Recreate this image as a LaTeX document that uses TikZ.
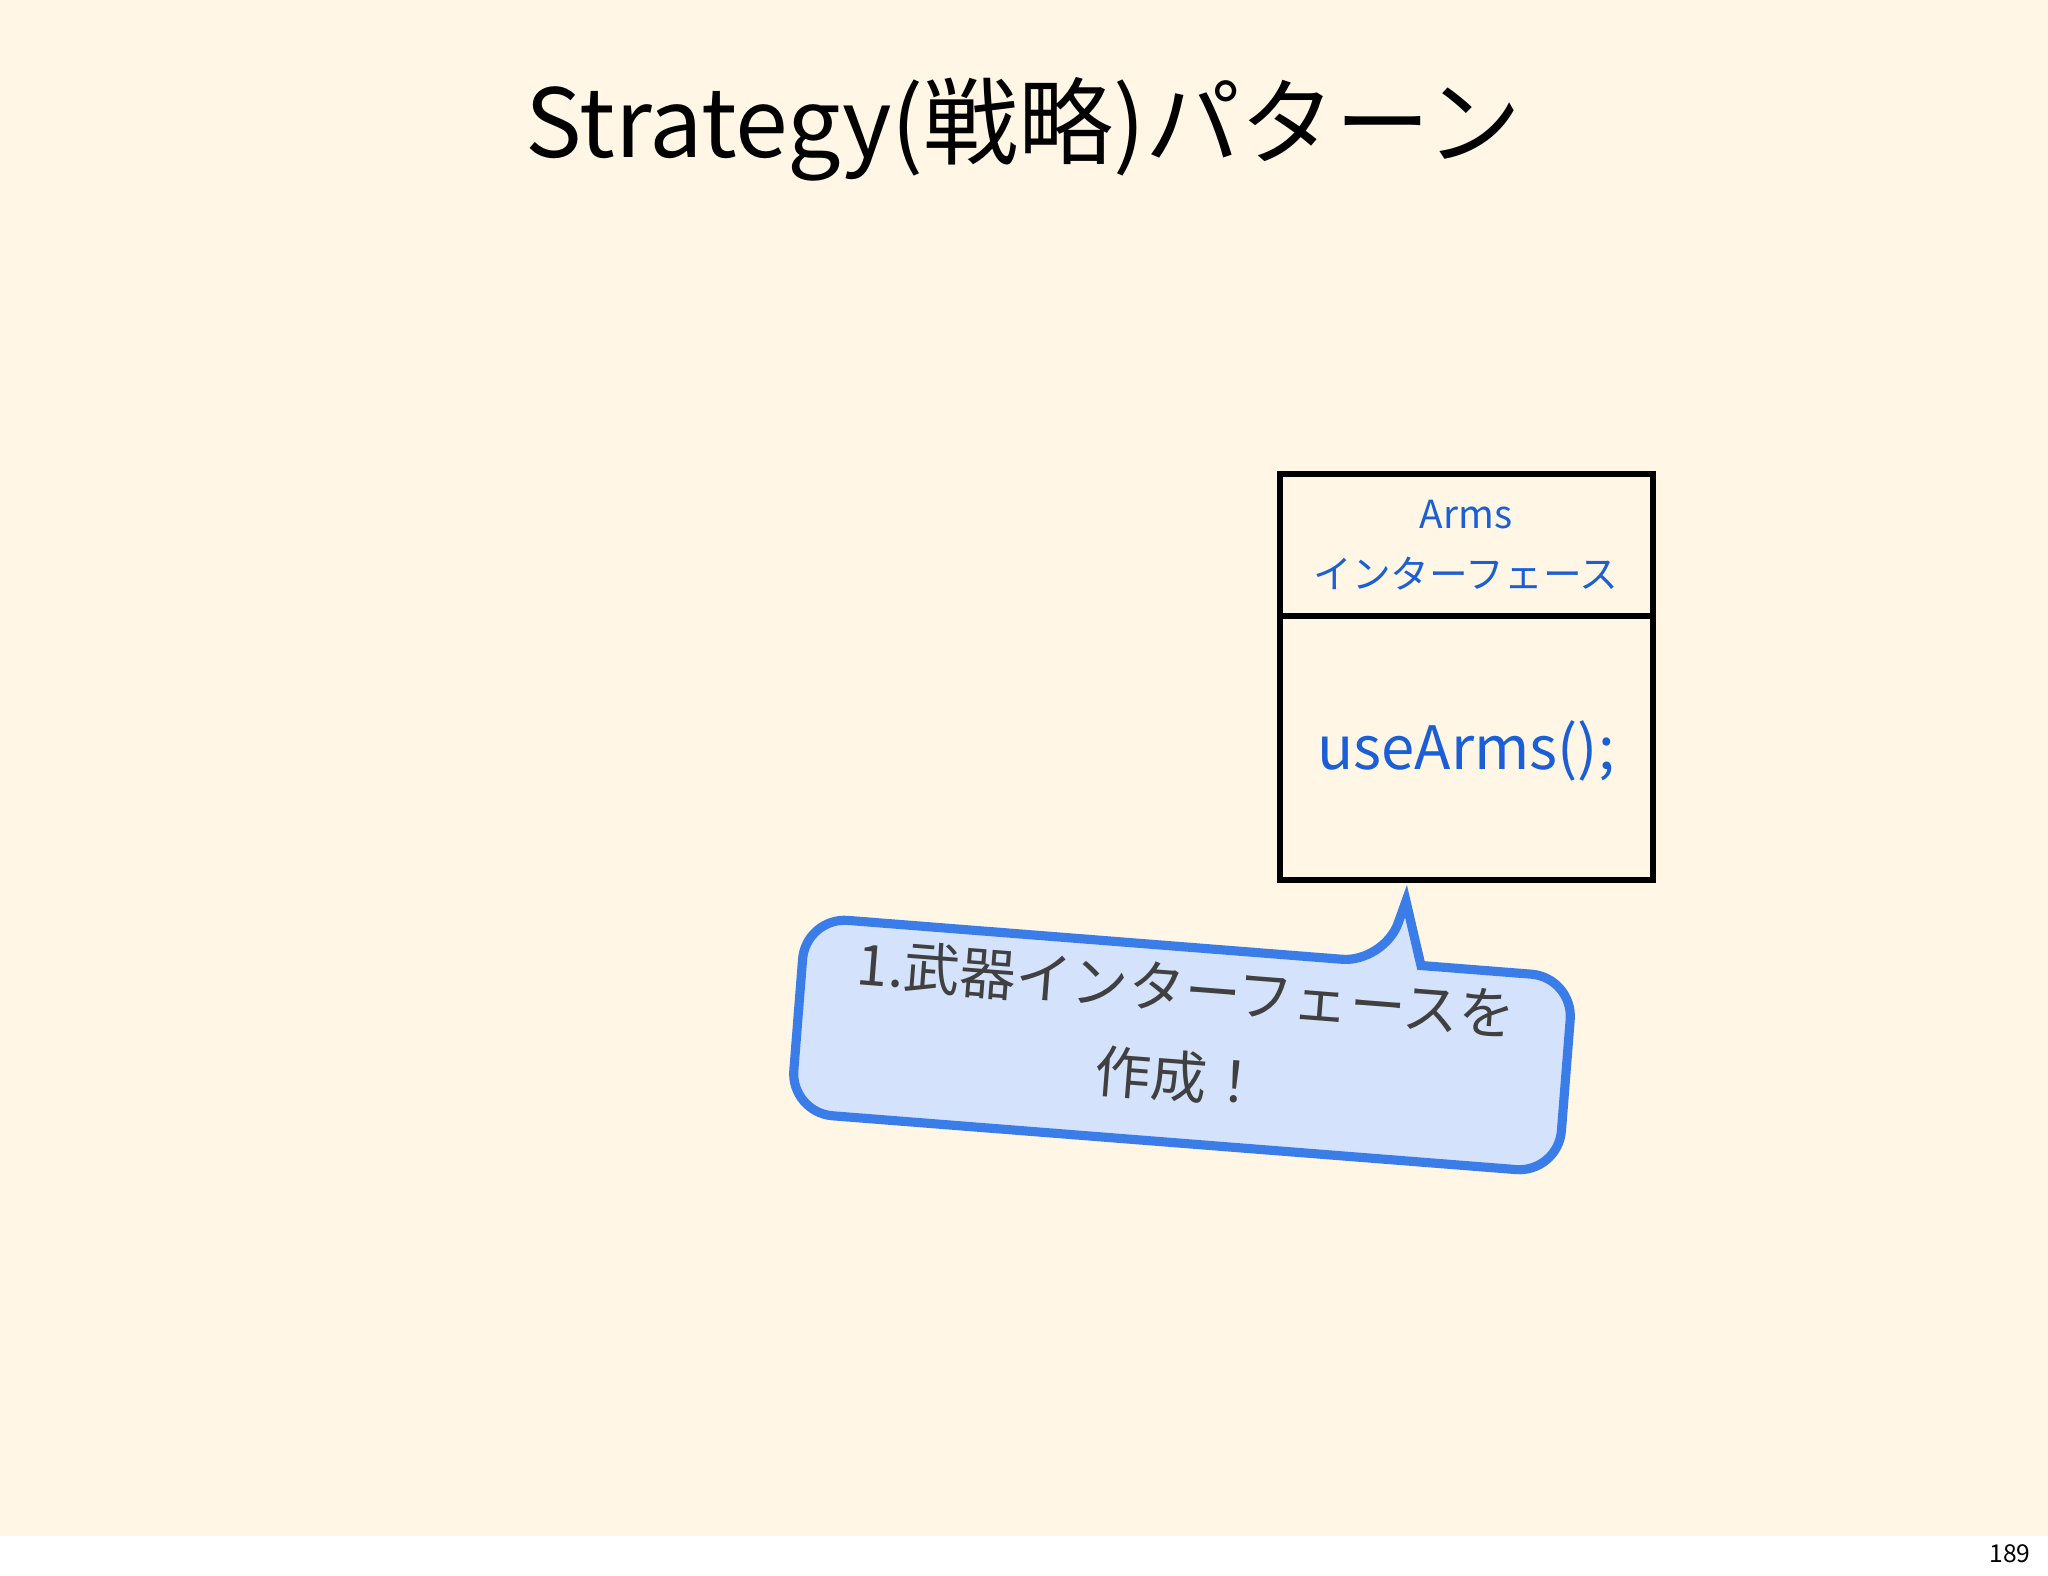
\documentclass[tikz,border=0pt]{standalone}
\usepackage{fontspec}
\setmainfont{Noto Sans CJK JP}
\definecolor{bg}{HTML}{FFF6E6}
\definecolor{umlblue}{HTML}{1A5FD6}
\definecolor{calfill}{HTML}{D4E3FB}
\definecolor{caldraw}{HTML}{3B7DE8}
\begin{document}
\begin{tikzpicture}[x=0.01cm,y=0.01cm]
\useasboundingbox (0,0) rectangle (2048,1576);
\fill[white] (0,0) rectangle (2048,1576);
\fill[bg] (0,40) rectangle (2048,1576);
\node[font=\fontsize{7}{8}\selectfont] (pg) at (2010,22) {189};
\node[font=\fontsize{27}{30}\selectfont] (title) at (1023,1447) {Strategy(戦略)パターン};
% UML box
\draw[line width=1.6pt] (1280,696) rectangle (1653,1102);
\draw[line width=1.6pt] (1280,960) -- (1653,960);
\node[text=umlblue,align=center,font=\fontsize{11}{17}\selectfont] (head) at (1466,1031) {Arms\\インターフェース};
\node[text=umlblue,font=\fontsize{17}{20}\selectfont] (meth) at (1466,825) {useArms();};
% callout
\begin{scope}[shift={(1182,531)},rotate=-4.5]
\draw[caldraw,fill=calfill,line width=2.6pt,rounded corners=12]
 (-385,98) -- (195,98) [sharp corners]-- (212,161) -- (232,98) [rounded corners=12]-- (385,98) -- (385,-98) -- (-385,-98) -- cycle;
\node[rotate=-4.5,align=center,text=black!75,font=\fontsize{16}{25}\selectfont] (cal) at (0,12) {1.武器インターフェースを\\作成！};
\end{scope}
\end{tikzpicture}
\end{document}
